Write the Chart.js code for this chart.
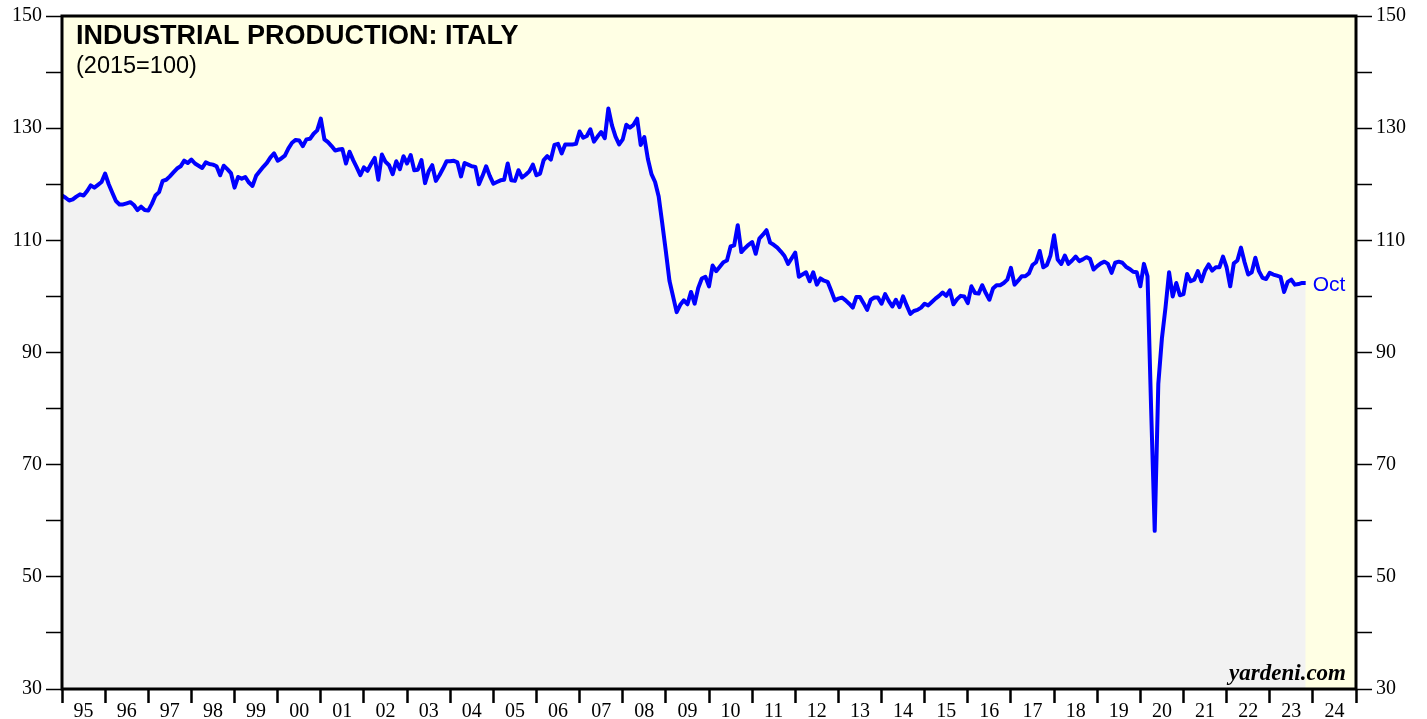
<!DOCTYPE html>
<html>
<head>
<meta charset="utf-8">
<script src="https://cdn.jsdelivr.net/npm/chart.js@4.4.1/dist/chart.umd.min.js"></script>
<style>
html,body{margin:0;padding:0;background:#ffffff;}
#wrap{position:relative;width:1427px;height:719px;}
</style>
</head>
<body>
<div id="wrap"><canvas id="c" width="1427" height="719"></canvas></div>
<script>
// Industrial production: Italy (2015=100), monthly
const ip1995_1999 = [
  118.0,117.6,117.1,117.3,117.8,118.2,118.0,118.8,119.8,119.4,119.9,120.4,
  121.9,120.0,118.5,117.0,116.4,116.4,116.6,116.8,116.3,115.4,116.0,115.4,
  115.3,116.5,118.0,118.6,120.6,120.8,121.4,122.1,122.8,123.2,124.2,123.8,
  124.4,123.7,123.3,122.9,123.9,123.6,123.5,123.2,121.6,123.3,122.7,122.0,
  119.4,121.3,121.0,121.3,120.3,119.7,121.5,122.3,123.1,123.8,124.8,125.5
];
const ip2000_2004 = [
  124.2,124.6,125.1,126.4,127.4,127.9,127.8,126.8,128.0,128.1,129.0,129.6,
  131.7,128.0,127.5,126.8,126.0,126.2,126.3,123.7,125.8,124.3,123.0,121.6,
  123.0,122.4,123.6,124.7,120.8,125.3,124.0,123.4,121.8,124.1,122.7,125.0,
  123.7,125.2,122.5,122.6,124.3,120.2,122.3,123.4,120.6,121.6,122.8,124.1,
  124.1,124.2,123.9,121.4,123.8,123.5,123.2,123.1,120.0,121.5,123.2,121.5
];
const ip2005_2009 = [
  120.1,120.4,120.7,120.8,123.7,120.7,120.6,122.5,121.2,121.7,122.3,123.5,
  121.6,121.9,124.3,125.0,124.4,127.0,127.2,125.5,127.1,127.1,127.1,127.2,
  129.4,128.3,128.6,129.8,127.6,128.5,129.3,128.2,133.5,130.5,128.5,127.1,
  128.0,130.6,130.1,130.6,131.7,127.0,128.4,124.5,121.8,120.4,117.8,113.0,
  108.0,102.8,100.0,97.2,98.5,99.3,98.6,100.8,98.7,101.5,103.2,103.5
];
const ip2010_2014 = [
  101.8,105.5,104.5,105.3,106.1,106.4,108.9,109.1,112.7,107.9,108.6,109.2,
  109.7,107.6,110.3,111.0,111.8,109.6,109.2,108.7,108.0,107.2,105.8,106.8,
  107.8,103.5,103.9,104.3,102.7,104.3,102.1,103.2,102.8,102.6,101.0,99.3,
  99.6,99.8,99.3,98.7,98.0,99.9,99.9,98.8,97.6,99.4,99.8,99.8,
  98.7,100.4,99.2,98.2,99.4,98.1,100.0,98.4,96.9,97.4,97.6,98.0
];
const ip2015_2019 = [
  98.7,98.4,99.0,99.6,100.1,100.7,100.1,101.1,98.6,99.5,100.1,100.0,
  98.8,101.8,100.6,100.5,102.0,100.6,99.4,101.4,102.0,102.0,102.4,103.0,
  105.1,102.1,102.8,103.6,103.6,104.1,105.6,106.1,108.1,105.2,105.6,107.3,
  110.9,106.6,105.8,107.3,105.8,106.4,107.1,106.3,106.6,107.0,106.7,104.8,
  105.4,105.9,106.2,105.8,104.2,106.0,106.2,106.0,105.3,104.9,104.4,104.3
];
const ip2020_2023 = [
  101.8,105.8,103.6,80.0,58.2,84.4,92.5,98.0,104.3,100.0,102.4,100.2,
  100.4,104.0,102.7,103.0,104.5,102.7,104.6,105.7,104.6,105.2,105.2,107.1,
  105.2,101.8,105.9,106.4,108.7,106.1,103.9,104.3,106.9,104.5,103.3,103.1,
  104.2,103.9,103.7,103.5,100.8,102.6,103.0,102.1,102.2,102.4,102.4
];
const yearLabels = ['95','96','97','98','99','00','01','02','03','04','05','06','07','08','09','10','11','12','13','14','15','16','17','18','19','20','21','22','23','24'];
const yTickLabels = [30,50,70,90,110,130,150];
const lastLabel = 'Oct';
const titleText = 'INDUSTRIAL PRODUCTION: ITALY';
const subtitleText = '(2015=100)';
const sourceText = 'yardeni.com';

const series = [].concat(ip1995_1999, ip2000_2004, ip2005_2009, ip2010_2014, ip2015_2019, ip2020_2023);
const points = series.map((v, i) => ({x: i, y: v}));

const CREAM = 'rgb(255,255,228)';
const GRAY = 'rgb(242,242,242)';
const BLUE = '#0000ff';

const decor = {
  id: 'decor',
  beforeDraw(chart) {
    const {ctx, chartArea: a} = chart;
    ctx.save();
    ctx.fillStyle = CREAM;
    ctx.fillRect(a.left, a.top, a.right - a.left, a.bottom - a.top);
    ctx.restore();
  },
  afterDraw(chart) {
    const {ctx, chartArea: a} = chart;
    ctx.save();
    ctx.strokeStyle = '#000';
    ctx.lineWidth = 3;
    ctx.strokeRect(a.left, a.top, a.right - a.left, a.bottom - a.top);
    ctx.fillStyle = '#000';
    ctx.textBaseline = 'middle';
    ctx.textAlign = 'left';
    ctx.font = 'bold 27px "Liberation Sans", Arial, sans-serif';
    ctx.fillText(titleText, a.left + 14, 37);
    ctx.font = '23.5px "Liberation Sans", Arial, sans-serif';
    ctx.fillText(subtitleText, a.left + 14, 67);
    // last value label
    const last = points[points.length - 1];
    const xs = chart.scales.x, ys = chart.scales.y;
    ctx.fillStyle = BLUE;
    ctx.font = '21px "Liberation Sans", Arial, sans-serif';
    ctx.fillText(lastLabel, xs.getPixelForValue(last.x) + 7, ys.getPixelForValue(last.y) + 2);
    // source
    ctx.fillStyle = '#000';
    ctx.textAlign = 'right';
    ctx.textBaseline = 'alphabetic';
    ctx.font = 'italic bold 23px "Liberation Serif", "Times New Roman", serif';
    ctx.fillText(sourceText, a.right - 10, a.bottom - 9);
    ctx.restore();
  }
};

const yCommon = {
  type: 'linear',
  min: 30, max: 150,
  ticks: {
    stepSize: 10,
    color: '#000',
    padding: 4,
    font: {family: '"Liberation Serif", "Times New Roman", serif', size: 20},
    callback: (v) => yTickLabels.includes(v) ? String(v) : ''
  },
  grid: {display: true, drawOnChartArea: false, drawTicks: true, tickLength: 16, tickWidth: 1.5, tickColor: '#000'},
  border: {display: false}
};

new Chart(document.getElementById('c'), {
  type: 'line',
  data: {
    datasets: [{
      data: points,
      yAxisID: 'y',
      borderColor: BLUE,
      borderWidth: 4,
      borderJoinStyle: 'round',
      backgroundColor: GRAY,
      fill: 'start',
      pointRadius: 0,
      tension: 0
    }]
  },
  options: {
    responsive: false,
    animation: false,
    layout: {padding: {top: 16, left: 0, right: 0, bottom: 0}},
    plugins: {legend: {display: false}, tooltip: {enabled: false}, title: {display: false}},
    scales: {
      x: {
        type: 'linear',
        min: 0, max: 360,
        afterBuildTicks: (s) => {
          const t = [];
          for (let v = 0; v <= 360; v += 6) t.push({value: v});
          s.ticks = t;
        },
        afterFit: (s) => { s.height = 30; },
        ticks: {
          autoSkip: false,
          maxRotation: 0,
          padding: -3,
          color: '#000',
          font: {family: '"Liberation Serif", "Times New Roman", serif', size: 20},
          callback: (v) => (v % 12 === 6) ? yearLabels[(v - 6) / 12] : ''
        },
        grid: {
          display: true, drawOnChartArea: false, drawTicks: true, tickLength: 14,
          tickWidth: 2.5,
          tickColor: (ctx) => (ctx.tick && ctx.tick.value % 12 === 0) ? '#000' : 'rgba(0,0,0,0)'
        },
        border: {display: false}
      },
      y: Object.assign({}, yCommon, {position: 'left', afterFit: (s) => { s.width = 62; }}),
      y2: Object.assign({}, yCommon, {position: 'right', display: true, afterFit: (s) => { s.width = 71; }})
    }
  },
  plugins: [decor]
});
</script>
</body>
</html>
